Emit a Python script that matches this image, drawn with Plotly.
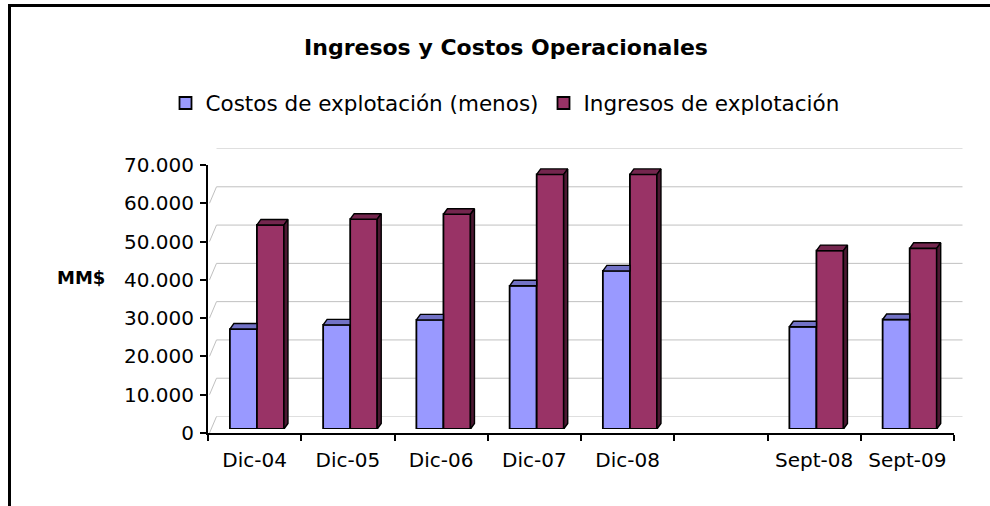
import plotly.graph_objects as go

# ---------------- data ----------------
categories = ["Dic-04", "Dic-05", "Dic-06", "Dic-07", "Dic-08", "", "Sept-08", "Sept-09"]
costos = [26100, 27200, 28500, 37400, 41300, None, 26700, 28600]
ingresos = [53300, 54800, 56100, 66500, 66500, None, 46600, 47200]
series_names = ["Costos de explotación (menos)", "Ingresos de explotación"]
y_ticks = [0, 10000, 20000, 30000, 40000, 50000, 60000, 70000]

# ---------------- styling / geometry ----------------
W, H = 990, 506
FONT = "DejaVu Sans"
BLUE, BLUE_TOP = "#9999FF", "#7272C6"
RED, RED_TOP, RED_SIDE = "#993366", "#74264E", "#4C1832"
GRID = "#C0C0C0"

def xdom(p0, p1):
    return [p0 / W, p1 / W]

def ydom(top, bottom):
    return [(H - bottom) / H, (H - top) / H]

front_x, front_y = (208, 954), (165, 433)
back_dx, back_dy = 8.5, 16.5
bar_dx, bar_dy = 2.3, 4.0
depth_dx, depth_dy = 4.0, 5.5   # 3D depth of the bars in pixels

n = len(categories)
xr = [-0.5, n - 0.5]
yr = [0, 70000]
px_per_x = (front_x[1] - front_x[0]) / n
px_per_y = (front_y[1] - front_y[0]) / (yr[1] - yr[0])
dxu = depth_dx / px_per_x
dyu = depth_dy / px_per_y

bargap = 0.42
w = (1 - bargap) / 2

fig = go.Figure()

# keeps the back-wall subplot alive
fig.add_trace(go.Scatter(x=[None], y=[None], xaxis="x2", yaxis="y2", showlegend=False,
                         hoverinfo="skip"))

# front faces (real bars)
fig.add_trace(go.Bar(x=list(range(n)), y=costos, name=series_names[0],
                     marker=dict(color=BLUE, line=dict(color="black", width=1.8)),
                     xaxis="x3", yaxis="y3"))
fig.add_trace(go.Bar(x=list(range(n)), y=ingresos, name=series_names[1],
                     marker=dict(color=RED, line=dict(color="black", width=1.8)),
                     xaxis="x3", yaxis="y3"))

# 3D top / side faces derived from the same values
def face(xs, ys, color):
    fig.add_trace(go.Scatter(x=xs, y=ys, mode="lines", fill="toself", fillcolor=color,
                             line=dict(color="black", width=1.4), showlegend=False,
                             hoverinfo="skip", xaxis="x3", yaxis="y3"))

for i in range(n):
    c, r = costos[i], ingresos[i]
    if c is None or r is None:
        continue
    x0, x1 = i - w, i
    face([x0, x1, x1, x0 + dxu, x0], [c, c, c + dyu, c + dyu, c], BLUE_TOP)
    x0, x1 = i, i + w
    face([x0, x1, x1 + dxu, x0 + dxu, x0], [r, r, r + dyu, r + dyu, r], RED_TOP)
    face([x1, x1 + dxu, x1 + dxu, x1, x1], [0, dyu, r + dyu, r, 0], RED_SIDE)

shapes = []
for v in y_ticks:
    # back-wall gridline
    shapes.append(dict(type="line", xref="x2 domain", yref="y2", x0=0, x1=1, y0=v, y1=v,
                       line=dict(color=GRID, width=1), layer="below"))
    # side-wall diagonal from the front axis to the back wall
    shapes.append(dict(type="line", xref="x", yref="y", xsizemode="pixel", ysizemode="pixel",
                       xanchor=xr[0], yanchor=v, x0=1.5, y0=0, x1=back_dx, y1=back_dy,
                       line=dict(color=GRID, width=1), layer="below"))
# outer frame
shapes.append(dict(type="rect", xref="paper", yref="paper", x0=9.5 / W, x1=1.05,
                   y0=-0.05, y1=(H - 5.5) / H, line=dict(color="black", width=3)))

fig.update_layout(
    width=W, height=H, autosize=False,
    margin=dict(l=0, r=0, t=0, b=0),
    paper_bgcolor="white", plot_bgcolor="rgba(0,0,0,0)",
    separators=",.",
    barmode="group", bargap=bargap, bargroupgap=0,
    font=dict(family=FONT, size=20, color="black"),
    title=dict(text="<b>Ingresos y Costos Operacionales</b>", x=506 / W, xanchor="center",
               y=(H - 47) / H, yanchor="middle", xref="paper", yref="paper",
               font=dict(family=FONT, size=22, color="black")),
    legend=dict(orientation="h", x=505 / W, xanchor="center", y=(H - 103) / H, yanchor="middle",
                font=dict(family=FONT, size=21.5, color="black"), bgcolor="rgba(0,0,0,0)",
                itemclick=False, itemdoubleclick=False, traceorder="normal"),
    showlegend=True,
    shapes=shapes,
    annotations=[dict(text="<b>MM$</b>", xref="paper", yref="paper", x=81 / W, y=(H - 277) / H,
                      xanchor="center", yanchor="middle", showarrow=False,
                      font=dict(family=FONT, size=18, color="black"))],
    xaxis=dict(domain=xdom(*front_x), range=xr, anchor="y", tickmode="array",
               tickvals=list(range(n)), ticktext=categories, ticks="", showline=True,
               linecolor="black", linewidth=2, showgrid=False, zeroline=False,
               ticklabelstandoff=8, automargin=False, fixedrange=True,
               tickfont=dict(family=FONT, size=20, color="black"),
               minor=dict(tickmode="array", tickvals=[k - 0.5 for k in range(n + 1)],
                          ticks="outside", ticklen=6, tickwidth=1.8, tickcolor="black",
                          showgrid=False)),
    yaxis=dict(domain=ydom(front_y[0], front_y[1]), range=yr, anchor="x", tickmode="array",
               tickvals=y_ticks, tickformat=",d", ticks="outside", ticklen=6, tickwidth=1.8,
               tickcolor="black", showline=True, linecolor="black", linewidth=2,
               showgrid=False, zeroline=False, ticklabelstandoff=2, automargin=False,
               fixedrange=True, tickfont=dict(family=FONT, size=20, color="black")),
    xaxis2=dict(domain=xdom(front_x[0] + back_dx, front_x[1] + back_dx), range=xr, anchor="y2",
                visible=False, fixedrange=True),
    yaxis2=dict(domain=ydom(front_y[0] - back_dy, front_y[1] - back_dy), range=yr,
                anchor="x2", visible=False, fixedrange=True),
    xaxis3=dict(domain=xdom(front_x[0] + bar_dx, front_x[1] + bar_dx), range=xr, anchor="y3",
                visible=False, fixedrange=True),
    yaxis3=dict(domain=ydom(front_y[0] - bar_dy, front_y[1] - bar_dy), range=yr, anchor="x3",
                visible=False, fixedrange=True),
)

fig.write_html("out.html", config={"displayModeBar": False},
               post_script="document.body.style.margin='0';document.body.style.overflow='hidden';")
